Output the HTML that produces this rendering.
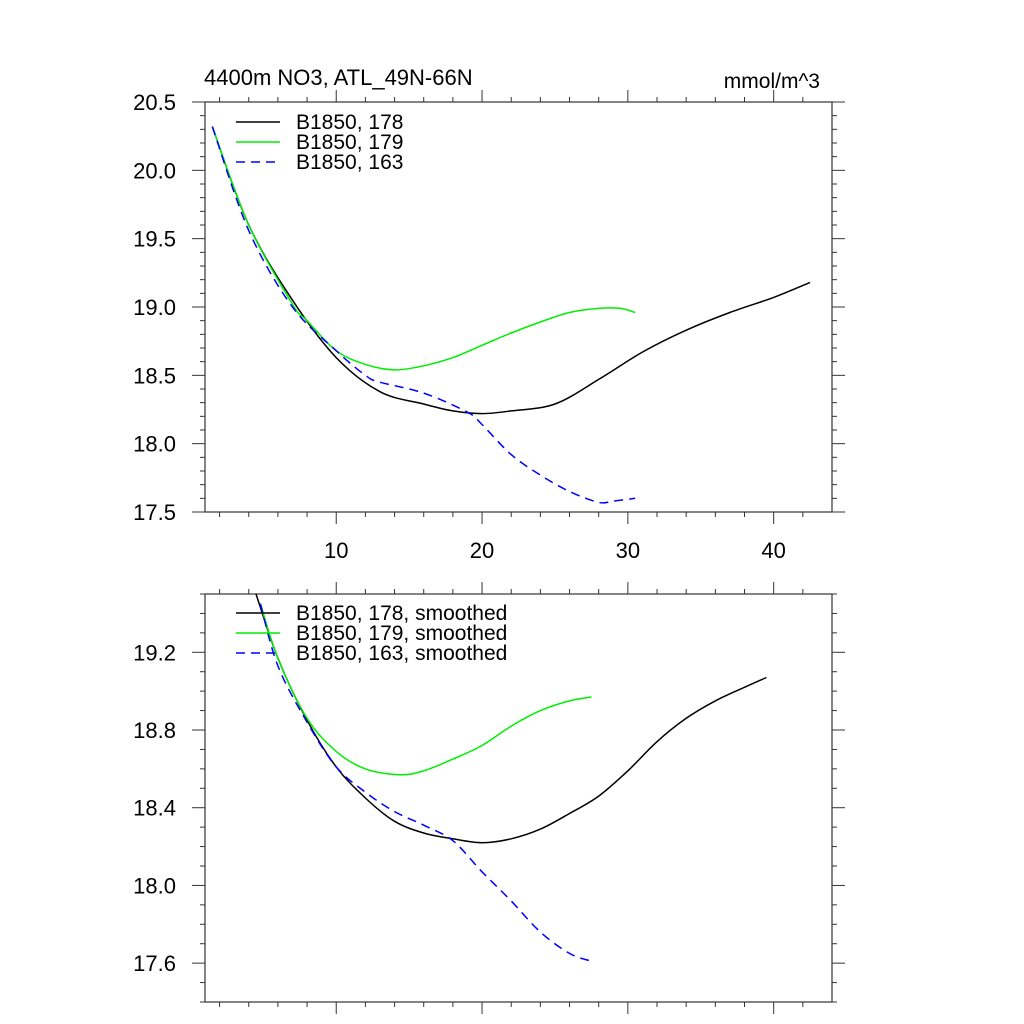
<!DOCTYPE html>
<html><head><meta charset="utf-8"><style>
body{margin:0;background:#fff}
svg{display:block;font-family:"Liberation Sans",sans-serif}
</style></head><body>
<svg id="c" width="1024" height="1024" viewBox="0 0 1024 1024"></svg>
<script>
// ---- data ----
const topX178=[1.5,4,7,10,13,16,18,20,22,25,28,31,34,37,40,42.5];
const topY178=[20.32,19.6,19.05,18.63,18.38,18.29,18.24,18.22,18.24,18.29,18.47,18.67,18.83,18.96,19.07,19.18];
const topX179=[1.5,4,7,8,10,12,14,16,18,20,22,24,26,28,29.5,30.5];
const topY179=[20.32,19.6,19.02,18.9,18.68,18.58,18.54,18.57,18.63,18.72,18.81,18.89,18.96,18.99,18.99,18.96];
const topX163=[1.5,4,7,10,12,13,16,19,20,22,24,26,28,29,30.5];
const topY163=[20.32,19.56,19.0,18.68,18.5,18.45,18.37,18.23,18.14,17.92,17.77,17.65,17.57,17.58,17.6];
const botX178=[4.5,6,8,10,12,14,16,18,20,22,24,26,28,30,32,34,36,38,39.5];
const botY178=[19.5,19.17,18.85,18.61,18.45,18.33,18.27,18.24,18.22,18.24,18.29,18.37,18.46,18.59,18.74,18.86,18.95,19.02,19.07];
const botX179=[4.8,6,8,10,12,14.4,16,18,20,22,24,26,27.5];
const botY179=[19.45,19.17,18.86,18.69,18.6,18.57,18.59,18.65,18.72,18.82,18.9,18.95,18.97];
const botX163=[4.8,6,8,10,12,14,16,18,20,22,24,26,27.5];
const botY163=[19.45,19.13,18.84,18.61,18.48,18.38,18.31,18.23,18.07,17.92,17.76,17.65,17.61];
const xTicks=[10,20,30,40];
const topYTicks=[17.5,18.0,18.5,19.0,19.5,20.0,20.5];
const botYTicks=[17.6,18.0,18.4,18.8,19.2];

const svg=document.getElementById('c');
const NS='http://www.w3.org/2000/svg';
function el(t,a,p){const e=document.createElementNS(NS,t);for(const k in a)e.setAttribute(k,a[k]);(p||svg).appendChild(e);return e;}
const L=205,R=832,X0=1,X1=44;
const sx=v=>L+(v-X0)/(X1-X0)*(R-L);

function panel(name,T,B,y0,y1,yTicks,dec,showX){
  const g=el('g',{});
  
  
  const sy=v=>B-(v-y0)/(y1-y0)*(B-T);
  const ax='#333';
  for(let v=2;v<X1;v+=2){const x=sx(v);const maj=v%10===0;const len=maj?12:5;
    el('line',{x1:x,x2:x,y1:B,y2:B+len,stroke:ax,'stroke-width':1},g);
    el('line',{x1:x,x2:x,y1:T,y2:T-len,stroke:ax,'stroke-width':1},g);}
  for(let v=Math.ceil(y0*10-1e-6);v<=Math.floor(y1*10+1e-6);v++){const y=sy(v/10);
    const maj=yTicks.some(t=>Math.abs(t*10-v)<1e-6);const len=maj?13:5;
    el('line',{x1:L-len,x2:L,y1:y,y2:y,stroke:ax,'stroke-width':1},g);
    el('line',{x1:R,x2:R+len,y1:y,y2:y,stroke:ax,'stroke-width':1},g);}
  yTicks.forEach(t=>{const tx=el('text',{x:176,y:sy(t)+8,'text-anchor':'end','font-size':22,fill:'#000'},g);tx.textContent=t.toFixed(dec);
    });
  if(showX)xTicks.forEach(t=>{const tx=el('text',{x:sx(t),y:558,'text-anchor':'middle','font-size':22,fill:'#000'},g);tx.textContent=t;
    });
  el('rect',{x:L,y:T,width:R-L,height:B-T,fill:'none',stroke:ax,'stroke-width':1.2},g);
  return {g,sy};
}
function series(p,xs,ys,color,dash,name){
  const P=xs.map((x,i)=>[sx(x),p.sy(ys[i])]);
  let d='M'+P[0][0].toFixed(1)+','+P[0][1].toFixed(1);
  for(let i=0;i<P.length-1;i++){
    const p0=P[Math.max(0,i-1)],p1=P[i],p2=P[i+1],p3=P[Math.min(P.length-1,i+2)];
    const c1=[p1[0]+(p2[0]-p0[0])/6,p1[1]+(p2[1]-p0[1])/6];
    const c2=[p2[0]-(p3[0]-p1[0])/6,p2[1]-(p3[1]-p1[1])/6];
    d+='C'+c1[0].toFixed(1)+','+c1[1].toFixed(1)+' '+c2[0].toFixed(1)+','+c2[1].toFixed(1)+' '+p2[0].toFixed(1)+','+p2[1].toFixed(1);
  }
  const a={d:d,fill:'none',stroke:color,'stroke-width':1.5,'stroke-linejoin':'round'};
  if(dash)a['stroke-dasharray']='9,6';
  const e=el('path',a,p.g);
  
  
}
function legend(p,y,labels){
  const cols=['#000','#00ee00','#0000ff'];
  labels.forEach((lb,i)=>{const yy=y+i*20;
    const a={x1:236,x2:280,y1:yy,y2:yy,stroke:cols[i],'stroke-width':1.5};if(i===2)a['stroke-dasharray']='9,6';
    const ln=el('line',a,p.g);
    const t=el('text',{x:296,y:yy+7,'font-size':21,fill:'#000'},p.g);t.textContent=lb;
    });
}
const p1=panel('top-panel',102,512,17.5,20.5,topYTicks,1,true);
series(p1,topX178,topY178,'#000',false,'line-178');
series(p1,topX179,topY179,'#00ee00',false,'line-179');
series(p1,topX163,topY163,'#0000ff',true,'line-163');
legend(p1,122,['B1850, 178','B1850, 179','B1850, 163']);
const p2=panel('bottom-panel',594,1002,17.4,19.5,botYTicks,1,false);
series(p2,botX178,botY178,'#000',false,'line-178-smoothed');
series(p2,botX179,botY179,'#00ee00',false,'line-179-smoothed');
series(p2,botX163,botY163,'#0000ff',true,'line-163-smoothed');
legend(p2,613,['B1850, 178, smoothed','B1850, 179, smoothed','B1850, 163, smoothed']);
let t=el('text',{x:204,y:85,'font-size':22,fill:'#000'});t.textContent='4400m NO3, ATL_49N-66N';

t=el('text',{x:820,y:88,'font-size':21,fill:'#000','text-anchor':'end'});t.textContent='mmol/m^3';

</script>
</body></html>
